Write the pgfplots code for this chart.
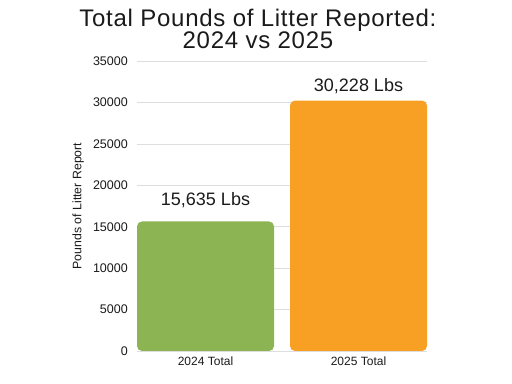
\documentclass[border=0pt]{standalone}
\usepackage{pgfplots}
\pgfplotsset{compat=1.18}
\usepackage{fontspec}
\setmainfont{Liberation Sans}
\definecolor{barGreen}{HTML}{8CB452}
\definecolor{barOrange}{HTML}{F8A024}
\definecolor{txt}{HTML}{1A1A1A}
\begin{document}
\begin{tikzpicture}
\path[use as bounding box] (0,0) rectangle (512bp,384bp);
\begin{axis}[
  at={(137bp,33bp)}, anchor=south west,
  width=290bp, height=290bp, scale only axis,
  xmin=-0.4477, xmax=1.4477, ymin=0, ymax=35000,
  ytick={0,5000,10000,15000,20000,25000,30000,35000},
  xtick={0,1}, xticklabels={2024 Total,2025 Total},
  /pgf/number format/assume math mode=true,
  scaled y ticks=false,
  yticklabel={\pgfmathprintnumber[1000 sep={}]{\tick}},
  axis line style={draw=none},
  major tick length=0pt,
  ymajorgrids, grid style={draw=black!13, line width=0.7bp},
  yticklabel style={font=\fontsize{12.5bp}{14bp}\selectfont, text=txt, inner sep=0pt, anchor=east, xshift=-9bp},
  xticklabel style={font=\fontsize{12bp}{14bp}\selectfont, text=txt, inner sep=0pt, anchor=north, yshift=-6bp},
  ylabel={Pounds of Litter Report},
  ylabel style={at={(axis description cs:-0.203,0.5)}, anchor=center, font=\fontsize{12.3bp}{14bp}\selectfont, text=txt},
  title={Total Pounds of Litter Reported:\\2024 vs 2025},
  title style={at={(axis description cs:0.417,1.0207)}, anchor=south, inner sep=0pt, align=center,
    font=\fontsize{24bp}{22bp}\selectfont\addfontfeature{LetterSpace=3}, text=txt},
  ybar, bar width=137bp,
]
\addplot[ybar, bar shift=0pt, fill=barGreen, draw=none, rounded corners=5bp,
  nodes near coords={15,635 Lbs},
  every node near coord/.append style={font=\fontsize{18bp}{20bp}\selectfont, text=txt, anchor=base, inner sep=0pt, yshift=16bp, rounded corners=0pt}]
  coordinates {(0,15635)};
\addplot[ybar, bar shift=0pt, fill=barOrange, draw=none, rounded corners=5bp,
  nodes near coords={30,228 Lbs},
  every node near coord/.append style={font=\fontsize{18bp}{20bp}\selectfont, text=txt, anchor=base, inner sep=0pt, yshift=9bp, rounded corners=0pt}]
  coordinates {(1,30228)};
\end{axis}
\end{tikzpicture}
\end{document}
